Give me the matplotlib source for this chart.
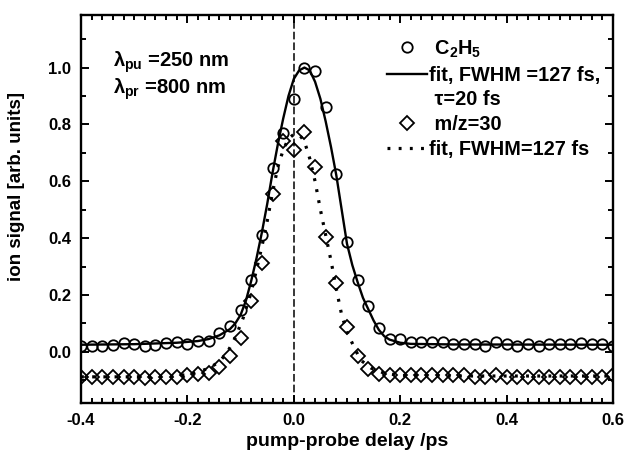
import numpy as np
import matplotlib
matplotlib.use("Agg")
import matplotlib.pyplot as plt
from matplotlib.lines import Line2D
from matplotlib.ticker import MultipleLocator

plt.rcParams["font.family"] = ["Liberation Sans", "DejaVu Sans"]
plt.rcParams["font.weight"] = "bold"
plt.rcParams["axes.labelweight"] = "bold"
plt.rcParams["mathtext.fontset"] = "custom"
plt.rcParams["mathtext.rm"] = "Liberation Sans:bold"
plt.rcParams["mathtext.it"] = "Liberation Sans:italic:bold"
plt.rcParams["mathtext.default"] = "rm"

# delay grid of the measured points (ps)
delay = np.round(np.arange(-0.40, 0.601, 0.02), 2)

# C2H5 ion signal
c2h5 = [0.020, 0.020, 0.022, 0.025, 0.030, 0.028, 0.022, 0.025, 0.030, 0.034,
        0.028, 0.039, 0.039, 0.065, 0.092, 0.148, 0.253, 0.410, 0.645, 0.770,
        0.890, 0.997, 0.988, 0.860, 0.626, 0.387, 0.251, 0.162, 0.083, 0.046,
        0.045, 0.036, 0.034, 0.034, 0.034, 0.027, 0.027, 0.027, 0.021, 0.033,
        0.026, 0.021, 0.026, 0.019, 0.026, 0.027, 0.027, 0.031, 0.026, 0.026,
        0.021]

# m/z=30 ion signal
mz30 = [-0.087, -0.087, -0.087, -0.087, -0.087, -0.087, -0.093, -0.087, -0.087, -0.087,
        -0.083, -0.078, -0.075, -0.054, -0.014, 0.050, 0.179, 0.312, 0.554, 0.742,
        0.710, 0.774, 0.651, 0.405, 0.241, 0.087, -0.016, -0.061, -0.077, -0.083,
        -0.083, -0.083, -0.083, -0.083, -0.083, -0.083, -0.083, -0.087, -0.087, -0.083,
        -0.087, -0.087, -0.087, -0.090, -0.087, -0.087, -0.090, -0.087, -0.090, -0.087,
        -0.083]

# fit curves
fit1_x = [-0.40, -0.30, -0.22, -0.18, -0.16, -0.14, -0.12, -0.11, -0.10, -0.09,
          -0.08, -0.07, -0.06, -0.05, -0.04, -0.03, -0.02, -0.01, 0.00, 0.01,
          0.02, 0.03, 0.04, 0.05, 0.06, 0.07, 0.08, 0.09, 0.10, 0.11,
          0.12, 0.13, 0.14, 0.15, 0.16, 0.17, 0.18, 0.20, 0.22, 0.30, 0.60]
fit1_y = [0.025, 0.027, 0.032, 0.038, 0.045, 0.058, 0.080, 0.100, 0.130, 0.180,
          0.250, 0.330, 0.420, 0.520, 0.630, 0.730, 0.820, 0.900, 0.960, 0.990,
          1.000, 0.990, 0.950, 0.890, 0.810, 0.720, 0.620, 0.500, 0.380, 0.305,
          0.245, 0.190, 0.150, 0.110, 0.077, 0.055, 0.043, 0.032, 0.028, 0.026, 0.025]

fit2_x = [-0.40, -0.30, -0.22, -0.19, -0.16, -0.14, -0.125, -0.11, -0.095, -0.08,
          -0.07, -0.06, -0.05, -0.04, -0.03, -0.02, -0.01, 0.00, 0.01, 0.02,
          0.03, 0.04, 0.05, 0.06, 0.07, 0.08, 0.09, 0.10, 0.11, 0.125,
          0.145, 0.17, 0.20, 0.30, 0.60]
fit2_y = [-0.088, -0.088, -0.085, -0.077, -0.058, -0.035, -0.002, 0.050, 0.120, 0.210,
          0.290, 0.370, 0.460, 0.560, 0.650, 0.710, 0.750, 0.765, 0.765, 0.740,
          0.680, 0.600, 0.500, 0.410, 0.320, 0.220, 0.130, 0.070, 0.030, -0.028,
          -0.057, -0.075, -0.083, -0.085, -0.085]

fig = plt.figure(figsize=(6.25, 4.61), dpi=100)
ax = fig.add_axes([0.1296, 0.1258, 0.8512, 0.8417])

# time zero
ax.axvline(0.0, color="black", lw=1.1, ls=(0, (5, 2)))

ax.plot(delay, c2h5, "o", ms=7.5, mfc="none", mec="black", mew=1.3)
ax.plot(fit1_x, fit1_y, "-", color="black", lw=1.7)
ax.plot(delay, mz30, "D", ms=7, mfc="none", mec="black", mew=1.3)
ax.plot(fit2_x, fit2_y, color="black", lw=2.3, ls=(0, (0.9, 2.6)))

ax.set_xlim(-0.4, 0.6)
ax.set_ylim(-0.18, 1.185)
ax.xaxis.set_major_locator(MultipleLocator(0.2))
ax.xaxis.set_minor_locator(MultipleLocator(0.02))
ax.yaxis.set_minor_locator(MultipleLocator(0.1))
ax.set_yticks([0.0, 0.2, 0.4, 0.6, 0.8, 1.0])
ax.xaxis.set_major_formatter(lambda v, _: f"{v:.1f}")
ax.yaxis.set_major_formatter(lambda v, _: f"{v:.1f}")
ax.tick_params(which="both", direction="in", top=True, right=True, width=1.4)
ax.tick_params(which="major", length=6, labelsize=12, pad=7)
ax.tick_params(which="minor", length=3.5)
for s in ax.spines.values():
    s.set_linewidth(1.7)

ax.set_xlabel("pump-probe delay /ps", fontsize=14)
ax.set_ylabel("ion signal [arb. units]", fontsize=13.5)
ax.yaxis.set_label_coords(-0.105, 0.557)

ax.text(0.06, 0.866, r"λ$_{\mathrm{pu}}$ =250 nm", transform=ax.transAxes,
        fontsize=14.5, va="baseline")
ax.text(0.06, 0.797, r"λ$_{\mathrm{pr}}$ =800 nm", transform=ax.transAxes,
        fontsize=14.5, va="baseline")

# legend, the tau line is a continuation of the first fit entry
handles = [
    Line2D([], [], marker="o", ls="none", ms=7.5, mfc="none", mec="black", mew=1.3),
    Line2D([], [], color="black", lw=1.7),
    Line2D([], [], ls="none"),
    Line2D([], [], marker="D", ls="none", ms=7, mfc="none", mec="black", mew=1.3),
    Line2D([], [], color="black", lw=2.3, ls=(0, (0.9, 2.6))),
]
labels = [" C$_2$H$_5$", "fit, FWHM =127 fs,", " τ=20 fs", " m/z=30", "fit, FWHM=127 fs"]
ax.legend(handles, labels, loc="upper left", bbox_to_anchor=(0.575, 0.94),
          frameon=False, fontsize=14.3, handlelength=2.0, handletextpad=0.1,
          labelspacing=0.3, borderpad=0, borderaxespad=0)

fig.savefig("out.png", dpi=100)
